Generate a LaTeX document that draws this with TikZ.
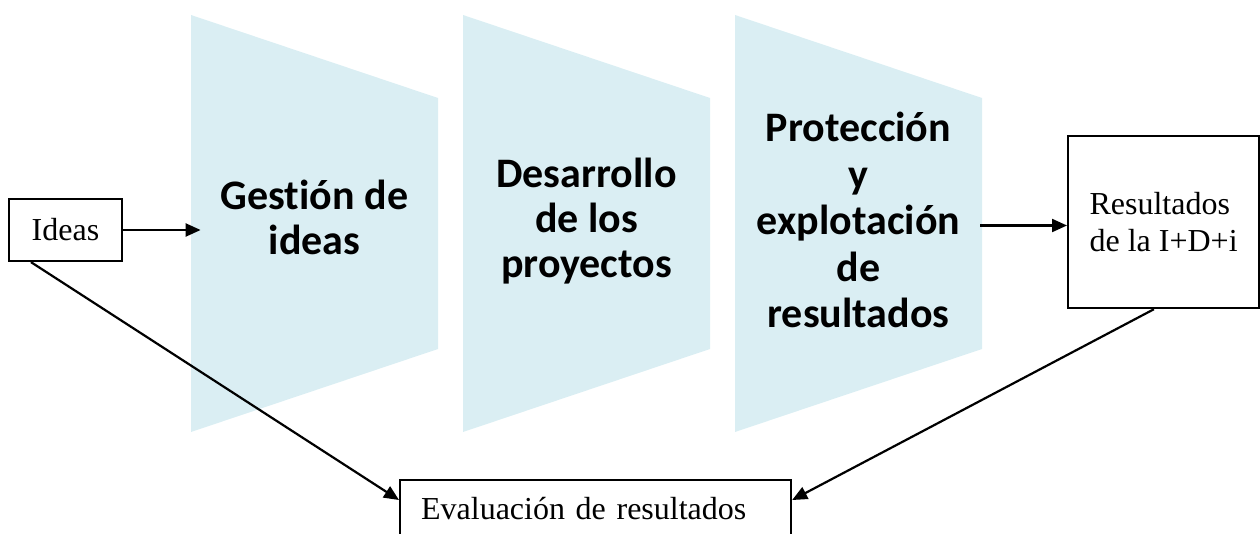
\documentclass[tikz,border=0pt]{standalone}
\usepackage{fontspec}
\setmainfont{Liberation Serif}
\newfontfamily\calibri[Ligatures=NoCommon]{Carlito}
\usepackage{xcolor}
\usetikzlibrary{arrows.meta,calc,positioning}
\definecolor{azulfase}{HTML}{DAEEF3}
\tikzset{
		>={Triangle[length=15pt,width=13pt]},
		caja/.style={draw,line width=2.2pt,font=\fontsize{32}{37}\selectfont,inner sep=0pt},
		fase/.style={font=\calibri\bfseries\fontsize{42}{45}\selectfont,align=center,inner xsep=20pt},
		flecha/.style={->,line width=2.2pt}
	}

\begin{document}
\begin{tikzpicture}[x=1pt,y=-1pt]
          \clip (0,0) rectangle (1260,534);

          % the three phases
          \foreach \x in {191,463,735}
            \fill[azulfase] (\x,15) -- (\x+247,98) -- (\x+247,349) -- (\x,432) -- cycle;

          \node[fase] (gestion) at (314.5,223.5) {\strut Gestión de\\ ideas\strut};
          \node[fase] (desarrollo) at (586.5,224) {\strut Desarrollo\\ de los\\ proyectos\strut};
          \node[fase,font=\calibri\bfseries\fontsize{42}{46.5}\selectfont] (proteccion) at (858.5,225.5) {\strut Protección\\ y\\ explotación\\ de\\ resultados\strut};

          \node[caja,minimum width=113pt,minimum height=62pt] (ideas) at (65.5,230) {Ideas};
          \node[caja,align=left,minimum width=191pt,minimum height=172pt,anchor=north west] (resultados) at (1067,135) {Resultados\\de la I+D+i};
          \node[caja,anchor=north west,text width=349pt,inner xsep=21pt,inner ysep=17pt,text height=22pt,text depth=6pt] (evaluacion) at (399,479) {Evaluación de resultados};% box runs off the page

          \draw[flecha] (ideas.east) -- (ideas.east -| gestion.west);
          \draw[flecha] (proteccion.east) -- (proteccion.east -| resultados.west);
          \draw[flecha] ($(ideas.south west)!0.2!(ideas.south east)$) -- ([yshift=-21pt]evaluacion.north west);
          \draw[flecha] ($(resultados.south west)!0.45!(resultados.south east)$) -- ([yshift=-21pt]evaluacion.north east);

\end{tikzpicture}
\end{document}
